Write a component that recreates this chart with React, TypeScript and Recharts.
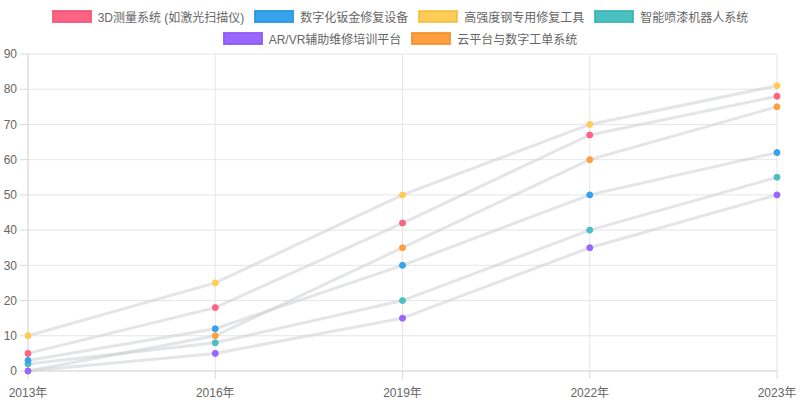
import React from 'react';
import { LineChart, Line, XAxis, YAxis, CartesianGrid } from 'recharts';

const years = ['2013年', '2016年', '2019年', '2022年', '2023年'];

const measure3d = [5, 18, 42, 67, 78];
const digitalSheet = [3, 12, 30, 50, 62];
const highStrength = [10, 25, 50, 70, 81];
const paintRobot = [2, 8, 20, 40, 55];
const arvrTraining = [0, 5, 15, 35, 50];
const cloudPlatform = [0, 10, 35, 60, 75];

const yTicks = [0, 10, 20, 30, 40, 50, 60, 70, 80, 90];

const seriesInfo = [
  { key: 'measure3d', name: '3D测量系统 (如激光扫描仪)', color: 'rgb(255, 99, 132)', values: measure3d },
  { key: 'digitalSheet', name: '数字化钣金修复设备', color: 'rgb(54, 162, 235)', values: digitalSheet },
  { key: 'highStrength', name: '高强度钢专用修复工具', color: 'rgb(255, 205, 86)', values: highStrength },
  { key: 'paintRobot', name: '智能喷漆机器人系统', color: 'rgb(75, 192, 192)', values: paintRobot },
  { key: 'arvrTraining', name: 'AR/VR辅助维修培训平台', color: 'rgb(153, 102, 255)', values: arvrTraining },
  { key: 'cloudPlatform', name: '云平台与数字工单系统', color: 'rgb(255, 159, 64)', values: cloudPlatform },
];

const data = years.map((year, i) => {
  const row: Record<string, any> = { year };
  seriesInfo.forEach(s => {
    row[s.key] = s.values[i];
  });
  return row;
});

const FONT = '"Liberation Sans", Arial, "Noto Sans CJK SC", sans-serif';

const LegendItem = ({ name, color }: { name: string; color: string }) => (
  <div style={{ display: 'flex', alignItems: 'center', marginRight: 10 }}>
    <div
      style={{
        width: 38,
        height: 11,
        background: color,
        border: `1px solid ${color}`,
        boxShadow: 'inset 0 0 0 1px rgba(0,0,0,0.08)',
        marginRight: 6,
      }}
    />
    <span style={{ fontSize: 12, color: '#666', whiteSpace: 'nowrap' }}>{name}</span>
  </div>
);

const App: React.FC = () => {
  const rows = [seriesInfo.slice(0, 4), seriesInfo.slice(4)];
  // first series on top, so draw in reverse
  const drawOrder = [...seriesInfo].reverse();
  return (
    <div style={{ position: 'absolute', left: 0, top: 0, width: 800, height: 400, fontFamily: FONT, background: '#fff' }}>
      <div style={{ position: 'absolute', left: 0, top: 5, width: 800 }}>
        {rows.map((row, ri) => (
          <div
            key={ri}
            style={{ display: 'flex', justifyContent: 'center', height: 22, paddingLeft: 10 }}
          >
            {row.map(s => (
              <LegendItem key={s.key} name={s.name} color={s.color} />
            ))}
          </div>
        ))}
      </div>
      <div style={{ position: 'absolute', left: 0, top: 0 }}>
        <LineChart
          width={800}
          height={400}
          data={data}
          margin={{ top: 54, right: 23, left: 0, bottom: 0 }}
        >
          <CartesianGrid stroke="#e6e6e6" vertical={true} horizontal={true} />
          <XAxis
            dataKey="year"
            height={29}
            tickSize={8}
            tickMargin={9}
            stroke="#d9d9d9"
            tick={{ fill: '#666', fontSize: 12, fontFamily: FONT }}
            interval={0}
          />
          <YAxis
            width={28}
            domain={[0, 90]}
            ticks={yTicks}
            tickSize={8}
            tickMargin={3}
            stroke="#d9d9d9"
            tick={{ fill: '#666', fontSize: 12, fontFamily: FONT }}
            interval={0}
          />
          {drawOrder.map(s => (
            <Line
              key={s.key}
              type="linear"
              dataKey={s.key}
              name={s.name}
              stroke="rgba(201, 203, 207, 0.5)"
              strokeWidth={3}
              dot={{ r: 3, fill: s.color, stroke: s.color, strokeWidth: 1 }}
              activeDot={false}
              isAnimationActive={false}
            />
          ))}
        </LineChart>
      </div>
    </div>
  );
};

export default App;
